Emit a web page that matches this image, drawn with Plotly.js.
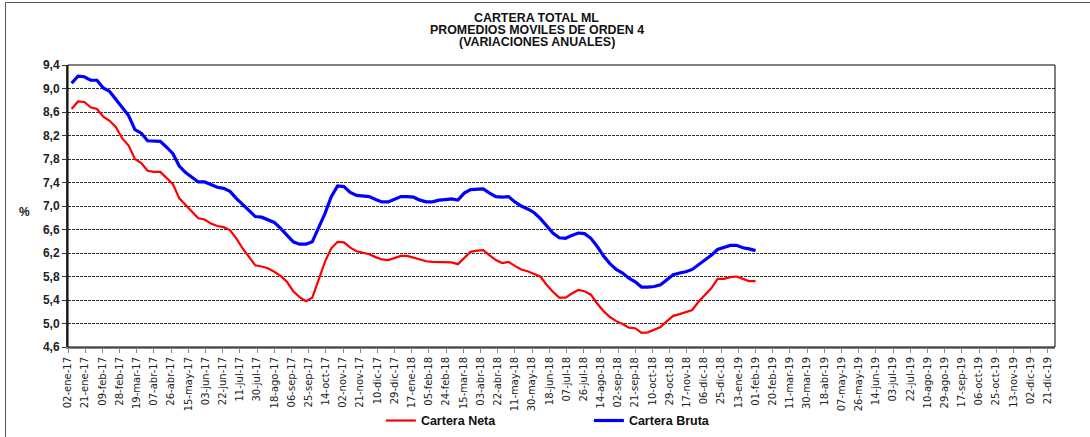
<!DOCTYPE html>
<html>
<head>
<meta charset="utf-8">
<script src="https://cdn.plot.ly/plotly-3.0.1.min.js"></script>
<style>
  html, body { margin: 0; padding: 0; background: #fff; }
  #chart { width: 1090px; height: 437px; }
</style>
</head>
<body>
<div id="chart"></div>
<script>
// Weekly observations (Fridays), first on 06-ene-17, last on 01-feb-19
const firstWeek = '2017-01-06';

const carteraNeta = [
  8.65, 8.78, 8.77, 8.68, 8.65, 8.52, 8.45, 8.34, 8.15, 8.03,
  7.80, 7.73, 7.60, 7.58, 7.58, 7.47, 7.37, 7.13, 7.02, 6.90,
  6.79, 6.77, 6.70, 6.66, 6.64, 6.59, 6.45, 6.28, 6.13, 5.99,
  5.97, 5.94, 5.88, 5.81, 5.71, 5.55, 5.45, 5.38, 5.44, 5.74,
  6.05, 6.28, 6.39, 6.38, 6.29, 6.23, 6.21, 6.18, 6.13, 6.09,
  6.08, 6.12, 6.15, 6.15, 6.12, 6.08, 6.06, 6.05, 6.05, 6.04,
  6.04, 6.01, 6.12, 6.22, 6.24, 6.25, 6.16, 6.08, 6.03, 6.05,
  5.98, 5.92, 5.89, 5.85, 5.80, 5.66, 5.54, 5.44, 5.44, 5.51,
  5.57, 5.55, 5.49, 5.34, 5.21, 5.11, 5.04, 4.99, 4.93, 4.92,
  4.84, 4.85, 4.90, 4.94, 5.04, 5.13, 5.16, 5.19, 5.23, 5.37,
  5.49, 5.60, 5.76, 5.76, 5.79, 5.80, 5.76, 5.72, 5.72
];

const carteraBruta = [
  9.09, 9.21, 9.20, 9.14, 9.14, 9.01, 8.95, 8.82, 8.67, 8.54,
  8.30, 8.24, 8.11, 8.10, 8.10, 8.00, 7.89, 7.68, 7.57, 7.49,
  7.41, 7.41, 7.36, 7.32, 7.30, 7.25, 7.13, 7.03, 6.93, 6.82,
  6.81, 6.76, 6.72, 6.62, 6.50, 6.39, 6.35, 6.35, 6.39, 6.62,
  6.87, 7.16, 7.34, 7.33, 7.23, 7.18, 7.17, 7.16, 7.11, 7.07,
  7.07, 7.11, 7.16, 7.16, 7.15, 7.10, 7.07, 7.07, 7.10, 7.11,
  7.12, 7.10, 7.22, 7.28, 7.28, 7.29, 7.22, 7.16, 7.15, 7.16,
  7.07, 7.00, 6.95, 6.89, 6.79, 6.66, 6.54, 6.46, 6.45, 6.50,
  6.54, 6.53, 6.45, 6.31, 6.15, 6.02, 5.92, 5.86, 5.77, 5.71,
  5.62, 5.62, 5.63, 5.66, 5.75, 5.83, 5.86, 5.88, 5.92, 6.00,
  6.09, 6.16, 6.26, 6.29, 6.33, 6.33, 6.29, 6.27, 6.24
];

const xTickLabels = [
  '02-ene-17','21-ene-17','09-feb-17','28-feb-17','19-mar-17','07-abr-17','26-abr-17','15-may-17',
  '03-jun-17','22-jun-17','11-jul-17','30-jul-17','18-ago-17','06-sep-17','25-sep-17','14-oct-17',
  '02-nov-17','21-nov-17','10-dic-17','29-dic-17','17-ene-18','05-feb-18','24-feb-18','15-mar-18',
  '03-abr-18','22-abr-18','11-may-18','30-may-18','18-jun-18','07-jul-18','26-jul-18','14-ago-18',
  '02-sep-18','21-sep-18','10-oct-18','29-oct-18','17-nov-18','06-dic-18','25-dic-18','13-ene-19',
  '01-feb-19','20-feb-19','11-mar-19','30-mar-19','18-abr-19','07-may-19','26-may-19','14-jun-19',
  '03-jul-19','22-jul-19','10-ago-19','29-ago-19','17-sep-19','06-oct-19','25-oct-19','13-nov-19',
  '02-dic-19','21-dic-19'
];

const yTickValues = [4.6, 5.0, 5.4, 5.8, 6.2, 6.6, 7.0, 7.4, 7.8, 8.2, 8.6, 9.0, 9.4];

const titleLines = ['CARTERA TOTAL ML', 'PROMEDIOS MOVILES DE ORDEN 4', '(VARIACIONES ANUALES)'];
const seriesNames = ['Cartera Neta', 'Cartera Bruta'];

// ---- helpers ----
const monthIdx = {ene:1,feb:2,mar:3,abr:4,may:5,jun:6,jul:7,ago:8,sep:9,oct:10,nov:11,dic:12};
function labelToDate(lbl) {
  const [d, m, y] = lbl.split('-');
  const mm = String(monthIdx[m]).padStart(2, '0');
  return '20' + y + '-' + mm + '-' + d;
}
function weeklyDates(start, n) {
  const out = [];
  const t0 = Date.parse(start + 'T00:00:00Z');
  for (let i = 0; i < n; i++) {
    out.push(new Date(t0 + i * 7 * 86400000).toISOString().slice(0, 10));
  }
  return out;
}

const xDates = weeklyDates(firstWeek, carteraNeta.length);
const xTickVals = xTickLabels.map(labelToDate);

const traces = [
  { x: xDates, y: carteraNeta, name: seriesNames[0], type: 'scatter', mode: 'lines',
    line: { color: '#FF0000', width: 2.2 } },
  { x: xDates, y: carteraBruta, name: seriesNames[1], type: 'scatter', mode: 'lines',
    line: { color: '#0000FF', width: 3.2 } }
];

const titleFont = { family: 'Liberation Sans, Arial, sans-serif', size: 12.4, color: '#111', weight: 'bold' };
const titleY = [1.1667, 1.1241, 1.0816];

const annotations = titleLines.map((t, i) => ({
  text: '<b>' + t + '</b>', xref: 'paper', yref: 'paper', x: 0.475, y: titleY[i],
  xanchor: 'center', yanchor: 'middle', showarrow: false, font: titleFont
}));
annotations.push({
  text: '<b>%</b>', xref: 'paper', yref: 'paper', x: -0.0436, y: 0.479,
  xanchor: 'center', yanchor: 'middle', showarrow: false,
  font: { family: 'Liberation Sans, Arial, sans-serif', size: 12, color: '#222' }
});

const layout = {
  width: 1090, height: 437,
  margin: { l: 68, r: 35, t: 65, b: 90, autoexpand: false },
  paper_bgcolor: '#fff', plot_bgcolor: '#fff',
  separators: ',.',
  showlegend: true,
  legend: {
    orientation: 'h', x: 0.317, y: -0.262, xanchor: 'left', yanchor: 'middle',
    entrywidth: 163, entrywidthmode: 'pixels',
    font: { family: 'Liberation Sans, Arial, sans-serif', size: 12.5, color: '#111', weight: 'bold' },
    bgcolor: 'rgba(0,0,0,0)'
  },
  xaxis: {
    type: 'date',
    range: ['2017-01-02', '2019-12-29'],
    tickmode: 'array', tickvals: xTickVals, ticktext: xTickLabels,
    tickangle: -90, automargin: false,
    tickfont: { family: 'DejaVu Sans, sans-serif', size: 10, color: '#222' },
    ticks: 'outside', ticklen: 4, tickcolor: '#888', tickwidth: 1,
    showgrid: false, zeroline: false,
    showline: true, linecolor: '#888', linewidth: 2
  },
  yaxis: {
    range: [4.6, 9.4], automargin: false,
    tickmode: 'array', tickvals: yTickValues, tickformat: '.1f',
    tickfont: { family: 'Liberation Sans, Arial, sans-serif', size: 12, color: '#222', weight: 'bold' },
    ticks: 'outside', ticklen: 4, tickcolor: '#333', tickwidth: 1,
    showgrid: true, gridcolor: '#333', gridwidth: 1, griddash: '3px,1px',
    zeroline: false,
    showline: true, linecolor: '#333', linewidth: 2
  },
  shapes: [
    { type: 'rect', xref: 'paper', yref: 'paper', x0: -0.0633, x1: 1.2, y0: -1, y1: 1.2216,
      line: { color: '#555', width: 1 }, layer: 'below' },
    { type: 'rect', xref: 'paper', yref: 'paper', x0: 0, x1: 1, y0: 0, y1: 1,
      line: { color: '#000', width: 1 }, layer: 'above' }
  ],
  annotations: annotations
};

Plotly.newPlot('chart', traces, layout, { displayModeBar: false, staticPlot: true });
</script>
</body>
</html>
